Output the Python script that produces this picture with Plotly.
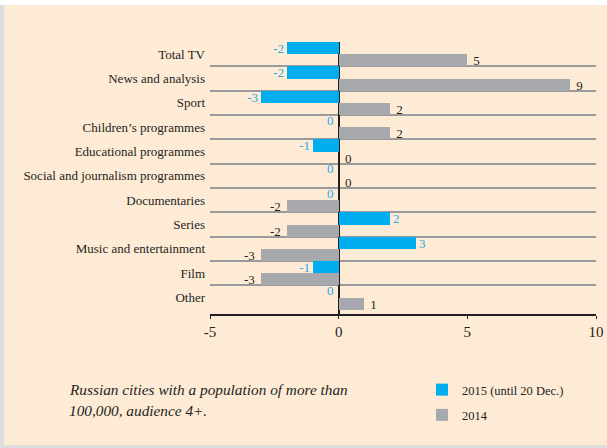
import plotly.graph_objects as go

categories = ["Total TV", "News and analysis", "Sport", "Children\u2019s programmes",
              "Educational programmes", "Social and journalism programmes",
              "Documentaries", "Series", "Music and entertainment", "Film", "Other"]
values_2015 = [-2, -2, -3, 0, -1, 0, 0, 2, 3, -1, 0]
values_2014 = [5, 9, 2, 2, 0, 0, -2, -2, -3, -3, 1]
x_ticks = [-5, 0, 5, 10]

blue = "#00aeef"
blue_text = "#29a9e1"
gray = "#a7a9ac"
ink = "#231f20"
serif = "Liberation Serif, Times New Roman, serif"
nbsp = "\u00a0"

# zero bars of 2015 carry their label to the left of the zero line (annotations below)
text_2015 = ["" if v == 0 else str(v) for v in values_2015]
# a little air between the grey bars and their numbers
text_2014 = [nbsp + str(v) if v >= 0 else str(v) + nbsp for v in values_2014]

fig = go.Figure()
fig.add_trace(go.Bar(
    y=categories, x=values_2015, orientation="h",
    name="2015 (until 20 Dec.)", marker_color=blue, marker_line_width=0,
    text=text_2015, textposition="outside", cliponaxis=False, constraintext="none",
    textfont=dict(color=blue_text, size=13, family=serif),
    legendgroup="a",
))
fig.add_trace(go.Bar(
    y=categories, x=values_2014, orientation="h",
    name="2014", marker_color=gray, marker_line_width=0,
    text=text_2014, textposition="outside", cliponaxis=False, constraintext="none",
    textfont=dict(color=ink, size=13, family=serif),
    legendgroup="b",
))

annotations = [
    dict(text="<i>Russian cities with a population of more than</i>", xref="paper", yref="paper",
         x=-143 / 386, y=-(389 - 314) / 272, xanchor="left", yanchor="middle",
         showarrow=False, font=dict(size=15.3, family=serif, color=ink)),
    dict(text="<i>100,000, audience 4+.</i>", xref="paper", yref="paper",
         x=-143 / 386, y=-(410 - 314) / 272, xanchor="left", yanchor="middle",
         showarrow=False, font=dict(size=15.3, family=serif, color=ink)),
]
for cat, v in zip(categories, values_2015):
    if v == 0:
        annotations.append(dict(text=str(v), x=v, y=cat, xanchor="right", yanchor="middle",
                                xshift=-3, yshift=7, showarrow=False,
                                font=dict(size=13, family=serif, color=blue_text)))

fig.update_layout(
    width=607, height=448,
    margin=dict(l=210, r=11, t=42, b=134, autoexpand=False),
    paper_bgcolor="white", plot_bgcolor="rgba(0,0,0,0)",
    barmode="group", bargap=0, bargroupgap=0,
    font=dict(family=serif, color=ink, size=13),
    showlegend=True,
    legend=dict(x=422 / 607, y=1 - 375 / 448, xref="container", yref="container",
                xanchor="left", yanchor="top",
                bgcolor="rgba(0,0,0,0)", font=dict(size=12.5, family=serif, color=ink),
                tracegroupgap=6, traceorder="grouped"),
    shapes=[
        dict(type="rect", xref="paper", yref="paper", x0=-210 / 386, x1=1 + 11 / 386,
             y0=-134 / 272, y1=1 + 37 / 272, fillcolor="#dedede", line_width=0, layer="below"),
        dict(type="rect", xref="paper", yref="paper", x0=-206 / 386, x1=1 + 11 / 386,
             y0=-131 / 272, y1=1 + 37 / 272, fillcolor="#feebd6", line_width=0, layer="below"),
    ],
    annotations=annotations,
)
fig.update_xaxes(
    range=[-5, 10], tickvals=x_ticks, ticktext=[str(t) for t in x_ticks],
    ticks="outside", ticklen=3, tickcolor=ink,
    showline=True, linecolor=ink, linewidth=1.5, showgrid=False,
    zeroline=True, zerolinecolor=ink, zerolinewidth=1.5,
    tickfont=dict(size=15, family=serif, color=ink),
)
fig.update_yaxes(
    autorange="reversed", tickson="boundaries", ticks="", showgrid=True,
    gridcolor="#9a9a9a", gridwidth=1.5, showline=False,
    tickfont=dict(size=13, family=serif, color=ink), ticklabelstandoff=4,
)

# drop the browser's default body margin so the figure sits at the window's corner
fig.write_html("out.html", config={"displayModeBar": False},
               post_script="document.body.style.margin='0';")
